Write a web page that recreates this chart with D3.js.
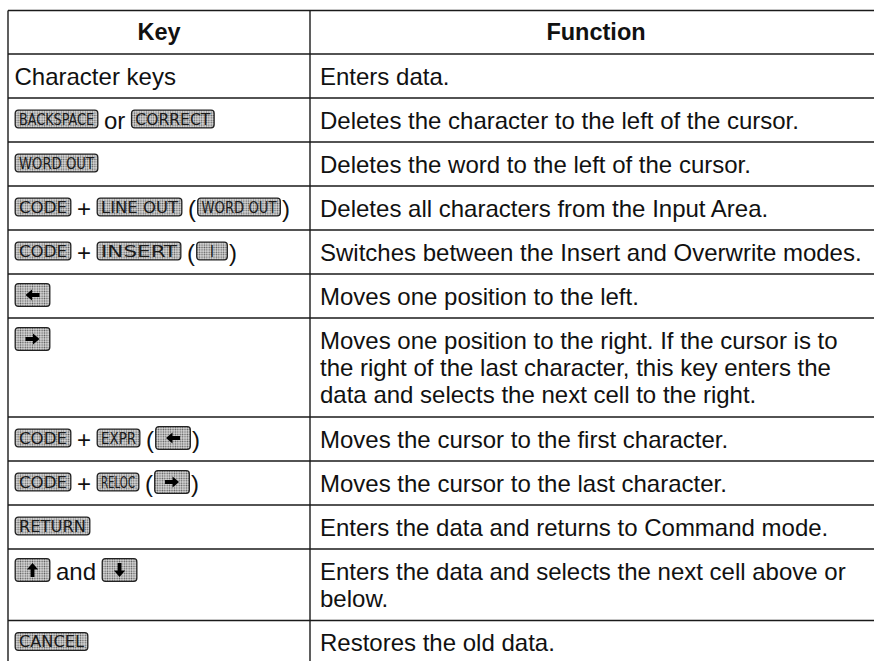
<!DOCTYPE html>
<html><head><meta charset="utf-8">
<script src="https://cdn.jsdelivr.net/npm/d3@7"></script>
<style>html,body{margin:0;padding:0;background:#fff;} svg{display:block}</style>
</head><body><svg id="c" width="874" height="661"></svg>
<script>
// ---------- DATA ----------
const headers = ["Key", "Function"];
const keyColumn = [
  [{text:"Character keys"}],
  [{key:"BACKSPACE"},{text:"or"},{key:"CORRECT"}],
  [{key:"WORD OUT"}],
  [{key:"CODE"},{text:"+"},{key:"LINE OUT"},{text:"("},{key:"WORD OUT"},{text:")"}],
  [{key:"CODE"},{text:"+"},{key:"INSERT"},{text:"("},{key:"I"},{text:")"}],
  [{arrow:"left"}],
  [{arrow:"right"}],
  [{key:"CODE"},{text:"+"},{key:"EXPR"},{text:"("},{arrow:"left"},{text:")"}],
  [{key:"CODE"},{text:"+"},{key:"RELOC"},{text:"("},{arrow:"right"},{text:")"}],
  [{key:"RETURN"}],
  [{arrow:"up"},{text:"and"},{arrow:"down"}],
  [{key:"CANCEL"}]
];
const functionColumn = [
  ["Enters data."],
  ["Deletes the character to the left of the cursor."],
  ["Deletes the word to the left of the cursor."],
  ["Deletes all characters from the Input Area."],
  ["Switches between the Insert and Overwrite modes."],
  ["Moves one position to the left."],
  ["Moves one position to the right. If the cursor is to",
   "the right of the last character, this key enters the",
   "data and selects the next cell to the right."],
  ["Moves the cursor to the first character."],
  ["Moves the cursor to the last character."],
  ["Enters the data and returns to Command mode."],
  ["Enters the data and selects the next cell above or",
   "below."],
  ["Restores the old data."]
];

// ---------- STYLE / LAYOUT ----------
const FONT = "'Liberation Sans', Arial, Helvetica, sans-serif";
const FS = 24;
const KEYFONT = "'Liberation Sans Narrow', 'DejaVu Sans Condensed', 'Liberation Sans', sans-serif";
const keycapWidth = {"BACKSPACE":84,"CORRECT":84,"WORD OUT":84,"CODE":57,"LINE OUT":86,"INSERT":85,"I":32,
  "EXPR":44,"RELOC":43,"RETURN":76,"CANCEL":74};
const tblLeft = 8, tblDivider = 310, tblRight = 882, tblTop = 10.5, headH = 43.5, rowH = 44, lineH = 27;
const ink = "#111";

const svg = d3.select("#c");
const defs = svg.append("defs");
const pat = defs.append("pattern").attr("id","dots").attr("patternUnits","userSpaceOnUse")
  .attr("width",2.4).attr("height",2.4);
pat.append("rect").attr("width",2.4).attr("height",2.4).attr("fill","#dadada");
pat.append("circle").attr("cx",1.2).attr("cy",1.2).attr("r",0.8).attr("fill","#5a5a5a");

// row geometry
const rows = keyColumn.map((k,i)=>({keys:k, lines:functionColumn[i]}));
let yy = tblTop + headH;
rows.forEach(r=>{ r.top = yy; r.h = rowH + (lineH+0.5)*(r.lines.length-1); yy += r.h; r.bottom = yy; });
const tableBottom = yy;

// grid
const g = svg.append("g");
const hl = [tblTop, tblTop+headH].concat(rows.map(r=>r.bottom));
g.selectAll("line.h").data(hl).join("line").attr("class","h")
  .attr("x1",tblLeft).attr("x2",tblRight).attr("y1",d=>d).attr("y2",d=>d)
  .attr("stroke","#1a1a1a").attr("stroke-width",1.4);
g.selectAll("line.v").data([tblLeft, tblDivider]).join("line").attr("class","v")
  .attr("x1",d=>d).attr("x2",d=>d).attr("y1",tblTop).attr("y2",tableBottom)
  .attr("stroke","#1a1a1a").attr("stroke-width",1.4);

// headers
const hx = [(tblLeft+tblDivider)/2, (tblDivider+tblRight)/2];
g.selectAll("text.head").data(headers).join("text").attr("class","head")
  .attr("x",(d,i)=>hx[i]).attr("y",tblTop+29.5).attr("text-anchor","middle")
  .attr("font-family",FONT).attr("font-size",FS-0.5).attr("font-weight","bold").attr("fill",ink)
  .text(d=>d);

// function column
rows.forEach(r=>{
  g.append("g").selectAll("text").data(r.lines).join("text")
    .attr("x",tblDivider+10).attr("y",(d,i)=>r.top+30.5+i*lineH)
    .attr("font-family",FONT).attr("font-size",FS).attr("fill",ink).text(d=>d);
});

// arrow glyph (pointing right, centered)
const arrowPath = "M-7,-1.9H0.5V-5.6L7,0L0.5,5.6V1.9H-7Z";
const rot = {right:0, down:90, left:180, up:-90};

// key column
rows.forEach(r=>{
  let x = 14.5;
  const cy = r.top + 21;
  r.keys.forEach((tok,i)=>{
    const prev = r.keys[i-1];
    if (i>0) {
      if (prev.text==="(" ) x += 1;
      else if (tok.text===")") x += 1;
      else x += 5.5;
    }
    if (tok.text!==undefined) {
      const t = g.append("text").attr("x",x).attr("y",r.top+30.5)
        .attr("font-family",FONT).attr("font-size",FS).attr("fill",ink).text(tok.text);
      x += t.node().getComputedTextLength();
    } else if (tok.key!==undefined) {
      const w = keycapWidth[tok.key] || 60, h = 19;
      const kg = g.append("g").attr("transform",`translate(${x},${cy-h/2})`);
      kg.append("rect").attr("x",0.7).attr("y",0.7).attr("width",w-1.4).attr("height",h-1.4)
        .attr("rx",3).attr("fill","url(#dots)").attr("stroke","#222").attr("stroke-width",1.3);
      const lt = kg.append("text").attr("x",w/2).attr("y",h/2+5.5).attr("text-anchor","middle")
        .attr("font-family",KEYFONT).attr("font-size",15).attr("fill","#1a1a1a").text(tok.key);
      if (tok.key.length>1) lt.attr("textLength",w-9).attr("lengthAdjust","spacingAndGlyphs");
      x += w;
    } else if (tok.arrow!==undefined) {
      const w = 36, h = 24;
      const kg = g.append("g").attr("transform",`translate(${x},${cy-h/2})`);
      kg.append("rect").attr("x",0.7).attr("y",0.7).attr("width",w-1.4).attr("height",h-1.4)
        .attr("rx",3).attr("fill","url(#dots)").attr("stroke","#222").attr("stroke-width",1.3);
      kg.append("path").attr("d",arrowPath)
        .attr("transform",`translate(${w/2},${h/2}) rotate(${rot[tok.arrow]})`).attr("fill","#000");
      x += w;
    }
  });
});
</script></body></html>
